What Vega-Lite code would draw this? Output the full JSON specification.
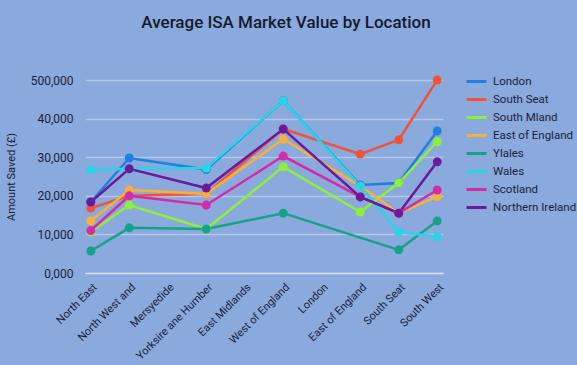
{
  "$schema": "https://vega.github.io/schema/vega-lite/v6.json",
  "autosize": {"type": "none"},
  "width": 358,
  "height": 193,
  "padding": {"left": 85, "top": 80, "right": 134, "bottom": 92},
  "background": "#8aa9dc",
  "title": {
    "text": "Average ISA Market Value by Location",
    "fontSize": 17,
    "font": "Roboto",
    "fontWeight": 500,
    "color": "#161a2c",
    "anchor": "middle",
    "dx": 22,
    "offset": 38
  },
  "config": {
    "view": {"stroke": null},
    "font": "Roboto",
    "axis": {
      "labelColor": "#1c2238",
      "titleColor": "#1c2238",
      "gridColor": "#ffffff",
      "gridOpacity": 0.35,
      "gridWidth": 1.5,
      "domain": false,
      "ticks": false
    }
  },
  "data": {
    "values": [
      {"series": "London", "location": "North East", "value": 18400},
      {"series": "London", "location": "North West and", "value": 29800},
      {"series": "London", "location": "Yorksire ane Humber", "value": 26800},
      {"series": "London", "location": "West of England", "value": 44600},
      {"series": "London", "location": "East of England", "value": 22800},
      {"series": "London", "location": "South Seat", "value": 23300},
      {"series": "London", "location": "South West", "value": 36800},
      {"series": "South Seat", "location": "North East", "value": 16800},
      {"series": "South Seat", "location": "North West and", "value": 20000},
      {"series": "South Seat", "location": "Yorksire ane Humber", "value": 20500},
      {"series": "South Seat", "location": "West of England", "value": 37300},
      {"series": "South Seat", "location": "East of England", "value": 30800},
      {"series": "South Seat", "location": "South Seat", "value": 34500},
      {"series": "South Seat", "location": "South West", "value": 50000},
      {"series": "South Mland", "location": "North East", "value": 10600},
      {"series": "South Mland", "location": "North West and", "value": 17600},
      {"series": "South Mland", "location": "Yorksire ane Humber", "value": 11400},
      {"series": "South Mland", "location": "West of England", "value": 27500},
      {"series": "South Mland", "location": "East of England", "value": 15800},
      {"series": "South Mland", "location": "South Seat", "value": 23300},
      {"series": "South Mland", "location": "South West", "value": 34000},
      {"series": "East of England", "location": "North East", "value": 13500},
      {"series": "East of England", "location": "North West and", "value": 21500},
      {"series": "East of England", "location": "Yorksire ane Humber", "value": 20500},
      {"series": "East of England", "location": "West of England", "value": 34700},
      {"series": "East of England", "location": "East of England", "value": 22500},
      {"series": "East of England", "location": "South Seat", "value": 15500},
      {"series": "East of England", "location": "South West", "value": 19800},
      {"series": "Ylales", "location": "North East", "value": 5700},
      {"series": "Ylales", "location": "North West and", "value": 11700},
      {"series": "Ylales", "location": "Yorksire ane Humber", "value": 11400},
      {"series": "Ylales", "location": "West of England", "value": 15500},
      {"series": "Ylales", "location": "South Seat", "value": 6000},
      {"series": "Ylales", "location": "South West", "value": 13500},
      {"series": "Wales", "location": "North East", "value": 26700},
      {"series": "Wales", "location": "North West and", "value": 27000},
      {"series": "Wales", "location": "Yorksire ane Humber", "value": 27200},
      {"series": "Wales", "location": "West of England", "value": 44600},
      {"series": "Wales", "location": "East of England", "value": 22500},
      {"series": "Wales", "location": "South Seat", "value": 10600},
      {"series": "Wales", "location": "South West", "value": 9400},
      {"series": "Scotland", "location": "North East", "value": 11000},
      {"series": "Scotland", "location": "North West and", "value": 20000},
      {"series": "Scotland", "location": "Yorksire ane Humber", "value": 17600},
      {"series": "Scotland", "location": "West of England", "value": 30300},
      {"series": "Scotland", "location": "East of England", "value": 19700},
      {"series": "Scotland", "location": "South Seat", "value": 15500},
      {"series": "Scotland", "location": "South West", "value": 21500},
      {"series": "Northern Ireland", "location": "North East", "value": 18400},
      {"series": "Northern Ireland", "location": "North West and", "value": 27000},
      {"series": "Northern Ireland", "location": "Yorksire ane Humber", "value": 22000},
      {"series": "Northern Ireland", "location": "West of England", "value": 37300},
      {"series": "Northern Ireland", "location": "East of England", "value": 19700},
      {"series": "Northern Ireland", "location": "South Seat", "value": 15500},
      {"series": "Northern Ireland", "location": "South West", "value": 28800}
    ]
  },
  "encoding": {
    "x": {
      "field": "location",
      "type": "ordinal",
      "scale": {
        "type": "point",
        "padding": 0.15,
        "domain": ["North East", "North West and", "Mersyedide", "Yorksire ane Humber", "East Midlands", "West of England", "London", "East of England", "South Seat", "South West"]
      },
      "axis": {
        "title": null,
        "labelAngle": -45,
        "labelFontSize": 11,
        "labelPadding": 8,
        "grid": false,
        "domain": true,
        "domainColor": "#ffffff",
        "domainOpacity": 0.5,
        "domainWidth": 1.5
      }
    },
    "y": {
      "field": "value",
      "type": "quantitative",
      "scale": {"domain": [0, 50000], "nice": false},
      "axis": {
        "title": "Amount Saved (£)",
        "titleFontSize": 11,
        "titleFontWeight": "normal",
        "titlePadding": 14,
        "values": [0, 10000, 20000, 30000, 40000, 50000],
        "labelExpr": "datum.value == 50000 ? '500,000' : datum.value == 0 ? '0,000' : format(datum.value, ',')",
        "labelFontSize": 12,
        "labelPadding": 12
      }
    },
    "color": {
      "field": "series",
      "type": "nominal",
      "scale": {
        "domain": ["London", "South Seat", "South Mland", "East of England", "Ylales", "Wales", "Scotland", "Northern Ireland"],
        "range": ["#1f80e0", "#f0523a", "#8ef03c", "#f7b03a", "#16a289", "#28d4e8", "#d62ba8", "#6a1a9a"]
      },
      "legend": {
        "title": null,
        "orient": "none",
        "legendX": 380,
        "legendY": -10,
        "symbolType": "stroke",
        "symbolSize": 400,
        "symbolStrokeWidth": 3,
        "labelFontSize": 11.5,
        "labelColor": "#1c2238",
        "labelOffset": 5,
        "rowPadding": 0
      }
    }
  },
  "layer": [
    {"mark": {"type": "line", "strokeWidth": 2.5}},
    {"mark": {"type": "circle", "size": 80, "opacity": 1}}
  ]
}
